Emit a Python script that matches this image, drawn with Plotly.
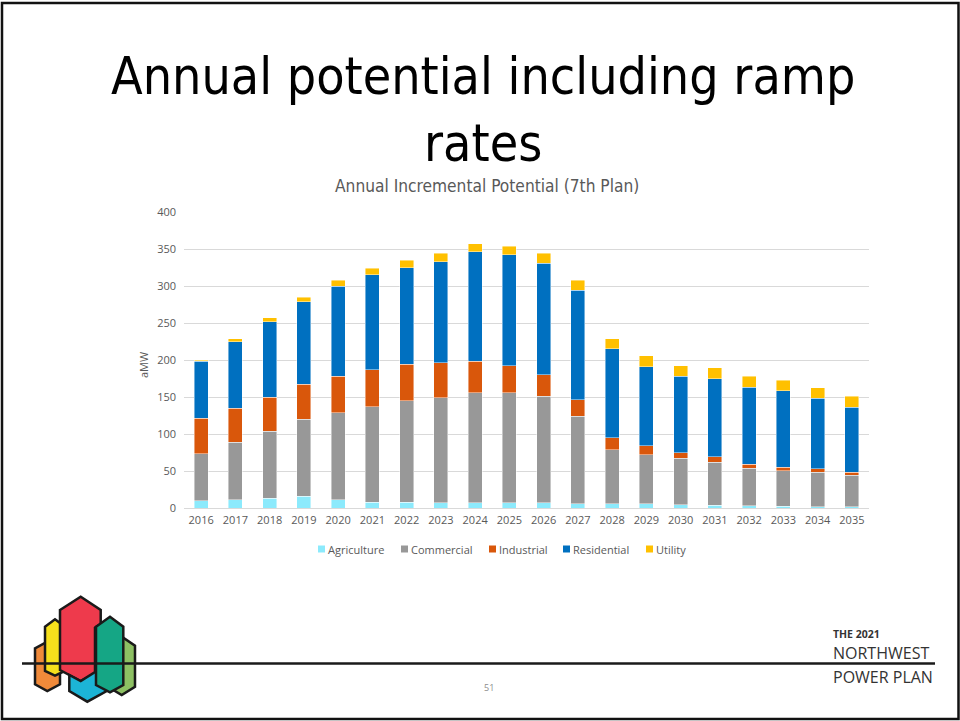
import plotly.graph_objects as go

# ---- data (aMW, annual incremental potential) ----
years = [str(y) for y in range(2016, 2036)]
agriculture = [10, 11, 13, 16, 11, 8, 8, 7, 7, 7, 7, 6, 6, 6, 4.5, 4, 3, 2.3, 1.8, 1.4]
commercial = [63, 78, 91, 104, 118, 129, 137, 142, 149, 149, 144, 118, 73, 66, 62.5, 58, 51, 48, 46.5, 43]
industrial = [48, 46, 46, 47, 49, 50, 49, 47, 42, 36, 29, 22, 16, 12, 8, 7, 5, 5, 4.5, 4]
residential = [77, 90, 102, 112, 122, 128, 131, 137, 148, 150, 151, 148, 120, 107, 103, 106, 104, 103, 95.5, 87.5]
utility = [2, 4, 5, 6, 8, 9, 10, 11, 11, 12, 13, 14, 14, 15, 14.5, 14.5, 15, 14.5, 14.5, 15]

series_names = ["Agriculture", "Commercial", "Industrial", "Residential", "Utility"]
series_values = [agriculture, commercial, industrial, residential, utility]
series_colors = ["#8CEAFC", "#989898", "#D9570B", "#0070C0", "#FFC000"]

W, H = 960, 721


def px(x):
    return x / W


def py(y):
    return 1 - y / H


TICK_FONT = "Open Sans, Liberation Sans, Arial, sans-serif"
NARROW_FONT = "Liberation Sans Narrow, DejaVu Sans Condensed, Liberation Sans, sans-serif"
MARK_FONT = "Open Sans, Liberation Sans, sans-serif"
GREY = "#595959"

fig = go.Figure()
for name, vals, col in zip(series_names, series_values, series_colors):
    fig.add_trace(go.Bar(
        x=years, y=vals, name=name,
        marker=dict(color=col, line=dict(color="rgba(255,255,255,0.55)", width=0.8)),
    ))

annotations = []
shapes = []

# slide heading (two lines)
annotations.append(dict(text="Annual potential including ramp<br>rates", x=px(483), y=py(110),
                        font=dict(family=NARROW_FONT, size=51.5, color="#000000")))
# chart title
annotations.append(dict(text="Annual Incremental Potential (7th Plan)", x=px(487), y=py(186),
                        font=dict(family=NARROW_FONT, size=17.2, color=GREY)))
# y axis title
annotations.append(dict(text="aMW", x=px(143), y=py(365), textangle=-90,
                        font=dict(family=TICK_FONT, size=11, color=GREY)))

# legend row
legend_sq_x = [318, 401, 489, 563, 646]
for name, col, sx in zip(series_names, series_colors, legend_sq_x):
    shapes.append(dict(type="rect", xref="paper", yref="paper",
                       x0=px(sx), x1=px(sx + 7), y0=py(552.5), y1=py(545.5),
                       fillcolor=col, line=dict(width=0)))
    annotations.append(dict(text=name, x=px(sx + 8), y=py(549), xanchor="left",
                            font=dict(family=TICK_FONT, size=11, color=GREY)))

# page number
annotations.append(dict(text="51", x=px(489), y=py(687),
                        font=dict(family=TICK_FONT, size=9, color="#8C8C8C")))

# plan wordmark
annotations.append(dict(text="<span style='font-size:10.5px'><b>THE 2021</b></span><br>NORTHWEST",
                        x=px(831), y=py(666), xanchor="left", yanchor="bottom", align="left",
                        font=dict(family=MARK_FONT, size=16, color="#333333")))
annotations.append(dict(text="POWER PLAN", x=px(831), y=py(677), xanchor="left",
                        font=dict(family=MARK_FONT, size=16, color="#333333")))

for a in annotations:
    a.update(xref="paper", yref="paper", showarrow=False)
    a.setdefault("xanchor", "center")
    a.setdefault("yanchor", "middle")


def poly(points, fill):
    path = "M " + " L ".join(f"{px(x):.5f},{py(y):.5f}" for x, y in points) + " Z"
    return dict(type="path", xref="paper", yref="paper", path=path,
                fillcolor=fill, line=dict(color="#1A1A1A", width=2.5))


# logo hexagons
shapes.append(poly([(35, 648.3), (47.3, 641.7), (60, 648.3), (60, 684.3), (47.3, 691), (35, 684.3)], "#F08A3A"))
shapes.append(poly([(45, 626.7), (55, 619.3), (65, 626.7), (65, 671), (55, 675.7), (45, 671)], "#F6E01C"))
shapes.append(poly([(60, 610), (80.7, 596.7), (100.7, 610), (100.7, 670), (80.7, 681), (60, 670)], "#EE3A4C"))
shapes.append(poly([(111.7, 643.3), (123.3, 637.7), (135, 645.7), (135, 686.7), (121.7, 695), (111.7, 689)], "#8DC063"))
shapes.append(poly([(95, 627.7), (101, 624.3), (106.7, 627.7), (106.7, 691), (87.3, 701.7), (69.3, 691),
                    (69.3, 675), (80.7, 681), (95, 672)], "#1CB4D6"))
shapes.append(poly([(96, 626.7), (110, 616.7), (123.3, 626.7), (123.3, 685), (110, 692.3), (96, 685)], "#15A685"))

# rule through logo and wordmark
shapes.append(dict(type="line", xref="paper", yref="paper", x0=px(22), x1=px(935), y0=py(663.5), y1=py(663.5),
                   line=dict(color="#1A1A1A", width=2.5)))

# slide frame
shapes.append(dict(type="rect", xref="paper", yref="paper", x0=px(2), x1=px(958.5), y0=py(3), y1=py(719),
                   line=dict(color="#111111", width=2.5), fillcolor="rgba(0,0,0,0)"))

fig.update_layout(
    width=W, height=H, autosize=False,
    margin=dict(l=0, r=0, t=0, b=0, pad=0, autoexpand=False),
    paper_bgcolor="#FFFFFF", plot_bgcolor="#FFFFFF",
    barmode="stack", bargap=0.59,
    showlegend=False,
    annotations=annotations,
    shapes=shapes,
    xaxis=dict(domain=[px(184), px(869)], type="category", showgrid=False, showline=False,
               automargin=False, ticks="",
               tickfont=dict(family=TICK_FONT, size=11, color=GREY), ticklabelstandoff=4),
    yaxis=dict(domain=[py(508), py(212)], range=[0, 400], dtick=50, showgrid=True,
               gridcolor="#D9D9D9", gridwidth=1, zeroline=True, zerolinecolor="#D9D9D9",
               zerolinewidth=1, showline=False, ticks="", automargin=False,
               tickfont=dict(family=TICK_FONT, size=11, color=GREY), ticklabelstandoff=7),
)

fig.write_html("out.html")
